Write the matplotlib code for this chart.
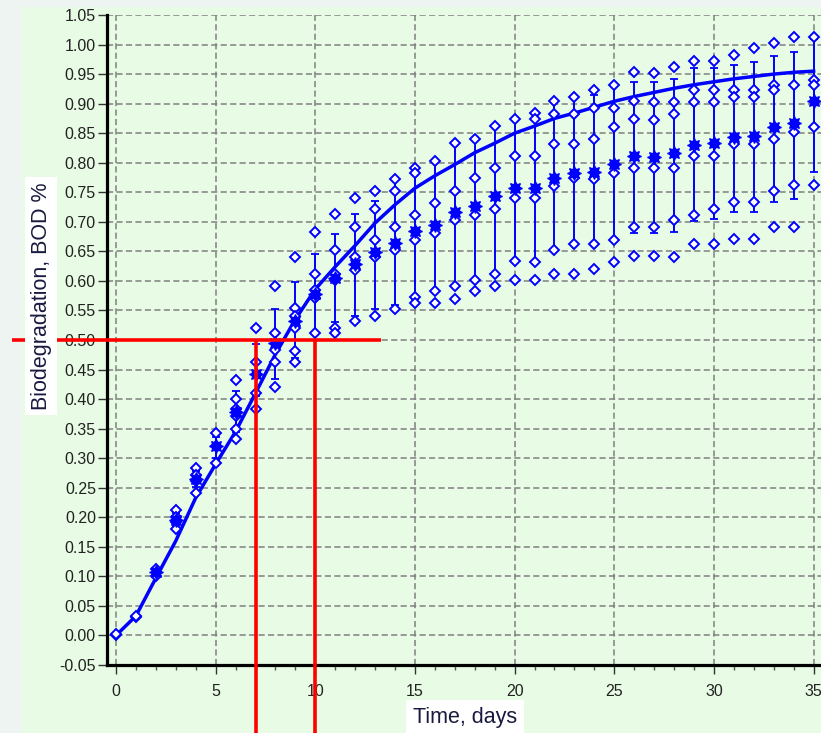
import matplotlib
matplotlib.use("Agg")
import matplotlib.pyplot as plt
from matplotlib.patches import Rectangle
from matplotlib.ticker import MultipleLocator, FormatStrFormatter
import numpy as np

# data
days = list(range(36))

fit_curve = [0.0, 0.033, 0.097, 0.160, 0.233, 0.290, 0.345, 0.410, 0.476, 0.535,
             0.586, 0.624, 0.660, 0.698, 0.729, 0.757, 0.778, 0.797, 0.817, 0.833,
             0.850, 0.862, 0.875, 0.884, 0.894, 0.904, 0.912, 0.919, 0.926, 0.932,
             0.937, 0.942, 0.946, 0.950, 0.953, 0.955]

replicates = [
    [0.0, 0.002],
    [0.031, 0.033],
    [0.113, 0.100],
    [0.212, 0.200, 0.192, 0.180],
    [0.284, 0.272, 0.262, 0.241],
    [0.342, 0.321, 0.292],
    [0.432, 0.400, 0.383, 0.371, 0.350, 0.332],
    [0.521, 0.462, 0.411, 0.383],
    [0.591, 0.512, 0.483, 0.462, 0.421],
    [0.641, 0.555, 0.540, 0.521, 0.481, 0.462],
    [0.683, 0.612, 0.584, 0.571, 0.512],
    [0.713, 0.653, 0.612, 0.602, 0.521, 0.512],
    [0.741, 0.691, 0.641, 0.619, 0.532],
    [0.753, 0.721, 0.670, 0.641, 0.541],
    [0.773, 0.753, 0.691, 0.653, 0.553],
    [0.791, 0.783, 0.711, 0.670, 0.572, 0.563],
    [0.803, 0.732, 0.681, 0.583, 0.563],
    [0.833, 0.753, 0.703, 0.591, 0.570],
    [0.841, 0.774, 0.712, 0.602, 0.583],
    [0.862, 0.791, 0.721, 0.612, 0.591],
    [0.874, 0.812, 0.741, 0.633, 0.602],
    [0.884, 0.874, 0.812, 0.741, 0.632, 0.602],
    [0.904, 0.882, 0.832, 0.761, 0.653, 0.611],
    [0.912, 0.882, 0.832, 0.774, 0.662, 0.611],
    [0.923, 0.892, 0.840, 0.773, 0.662, 0.621],
    [0.932, 0.892, 0.861, 0.783, 0.670, 0.632],
    [0.953, 0.904, 0.874, 0.791, 0.691, 0.642],
    [0.952, 0.903, 0.873, 0.791, 0.691, 0.642],
    [0.962, 0.903, 0.883, 0.791, 0.703, 0.641],
    [0.973, 0.923, 0.903, 0.812, 0.711, 0.662],
    [0.973, 0.923, 0.903, 0.812, 0.721, 0.662],
    [0.982, 0.923, 0.912, 0.832, 0.733, 0.671],
    [0.994, 0.923, 0.912, 0.832, 0.733, 0.671],
    [1.002, 0.932, 0.923, 0.841, 0.753, 0.692],
    [1.012, 0.932, 0.852, 0.762, 0.692],
    [1.012, 0.940, 0.932, 0.861, 0.762],
]

mean_values = [0.0, 0.032, 0.107, 0.196, 0.264, 0.320, 0.378, 0.442, 0.495, 0.532,
               0.578, 0.605, 0.628, 0.649, 0.664, 0.684, 0.695, 0.716, 0.727, 0.743,
               0.757, 0.757, 0.775, 0.783, 0.785, 0.798, 0.811, 0.810, 0.816, 0.830,
               0.833, 0.843, 0.846, 0.860, 0.867, 0.904]

err_low = [0.0, 0.032, 0.100, 0.185, 0.252, 0.300, 0.345, 0.405, 0.434, 0.470,
           0.512, 0.530, 0.540, 0.553, 0.560, 0.570, 0.585, 0.591, 0.602, 0.612,
           0.633, 0.632, 0.653, 0.662, 0.662, 0.670, 0.681, 0.681, 0.683, 0.701,
           0.704, 0.716, 0.716, 0.733, 0.739, 0.785]

err_high = [0.0, 0.032, 0.113, 0.207, 0.278, 0.336, 0.414, 0.493, 0.552, 0.598,
            0.646, 0.680, 0.714, 0.736, 0.770, 0.791, 0.803, 0.833, 0.841, 0.862,
            0.874, 0.884, 0.904, 0.912, 0.915, 0.930, 0.937, 0.936, 0.941, 0.960,
            0.960, 0.965, 0.971, 0.981, 0.988, 1.010]

half_level = 0.5
half_days = [7, 10]

BLUE = "#0000ff"
GREEN = "#e8fce5"
OUTER = "#edf4f2"

plt.rcParams["font.family"] = ["Liberation Sans", "DejaVu Sans"]
plt.rcParams["axes.unicode_minus"] = False

W, H = 821, 733
fig = plt.figure(figsize=(W / 100, H / 100), dpi=100, facecolor=OUTER)
fig.patches.append(Rectangle((22 / W, 0), (W - 22) / W, (H - 7) / H,
                             transform=fig.transFigure, facecolor=GREEN,
                             edgecolor="none", zorder=-5))

ax = fig.add_axes([107 / W, 68 / H, (W - 107) / W, 650 / H])
ax.set_facecolor(GREEN)
ax.set_xlim(-0.45, 35.37)
ax.set_ylim(-0.05, 1.05)

# error bars (mean with spread)
means = np.array(mean_values)
yerr = [means - np.array(err_low), np.array(err_high) - means]
ax.errorbar(days, means, yerr=yerr, fmt="none", ecolor=BLUE, elinewidth=1.4,
            capsize=3, capthick=1.3, zorder=3)

# fitted curve
ax.plot(days, fit_curve, color=BLUE, linewidth=2.5, zorder=4)

# individual replicates
rep_x = [d for d, vals in zip(days, replicates) for _ in vals]
rep_y = [v for vals in replicates for v in vals]
ax.plot(rep_x, rep_y, linestyle="none", marker="D", markersize=5.6,
        markerfacecolor="white", markeredgecolor=BLUE, markeredgewidth=1.4,
        zorder=5)

# means: filled blob with spikes
ax.plot(days[2:], mean_values[2:], linestyle="none", marker="o",
        markersize=6.5, color=BLUE, zorder=6)
ax.plot(days[2:], mean_values[2:], linestyle="none", marker=(8, 1, 0),
        markersize=10, color=BLUE, zorder=6)

# axes look
ax.xaxis.set_major_locator(MultipleLocator(5))
ax.xaxis.set_minor_locator(MultipleLocator(1))
ax.set_yticks(np.round(np.arange(-0.05, 1.0501, 0.05), 2))
ax.yaxis.set_major_formatter(FormatStrFormatter("%.2f"))
ax.grid(True, which="major", color="#7f7f7f", linestyle=(0, (4, 2.2)),
        linewidth=1.1, zorder=1)
ax.set_axisbelow(True)
for side in ["top", "right"]:
    ax.spines[side].set_visible(False)
for side in ["left", "bottom"]:
    ax.spines[side].set_linewidth(2.3)
    ax.spines[side].set_color("black")
ax.tick_params(axis="x", which="major", direction="out", length=6.5, width=1,
               pad=7, labelsize=11.5, labelcolor="#222222", color="#333333")
ax.tick_params(axis="x", which="minor", direction="out", length=3.5, width=1,
               color="#555555")
ax.tick_params(axis="y", which="major", direction="out", length=6.5, width=1,
               pad=1.5, labelsize=11.5, labelcolor="#222222", color="#333333")

# axis titles on white boxes
fig.text(41 / W, 1 - 296 / H, "Biodegradation, BOD %", rotation=90,
         ha="center", va="center", fontsize=15.5, color="#1a1a40",
         bbox=dict(facecolor="white", edgecolor="none", pad=4))
fig.text(465 / W, 1 - 717 / H, "Time, days", ha="center", va="center",
         fontsize=15.5, color="#1a1a40",
         bbox=dict(facecolor="white", edgecolor="none", pad=5))

# red half-life markers, drawn past the axes
ax.plot([-5.2, 13.3], [half_level, half_level], color="red", linewidth=2.6,
        solid_capstyle="butt", clip_on=False, zorder=10)
for d in half_days:
    ax.plot([d, d], [half_level, -0.2], color="red", linewidth=2.6,
            solid_capstyle="butt", clip_on=False, zorder=10)

fig.savefig("out.png", dpi=100, facecolor=fig.get_facecolor())
